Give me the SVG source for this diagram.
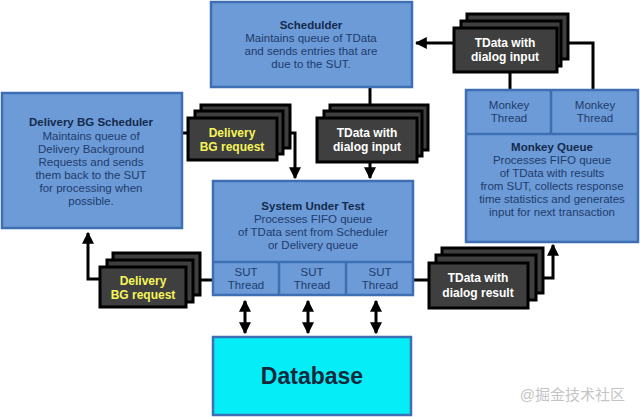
<svg xmlns="http://www.w3.org/2000/svg" width="640" height="417" viewBox="0 0 640 417">
<defs>
<style>
.box{fill:#6c9bd8;stroke:#3f6fb3;stroke-width:2.5}
.db{fill:#05eef8;stroke:#3f6fb3;stroke-width:2.5}
.card{fill:#3f3f3f;stroke:#000;stroke-width:3}
.t{font-family:"Liberation Sans",Arial,sans-serif;font-size:11.5px;fill:#1f3c6c;text-anchor:middle}
.b{font-weight:bold;fill:#142a4c}
.ct{font-family:"Liberation Sans",Arial,sans-serif;font-size:12px;font-weight:bold;fill:#ffffff;text-anchor:middle}
.cy{fill:#f5f55a}
.ln{fill:none;stroke:#000;stroke-width:3}
</style>
<marker id="ah" viewBox="0 0 10 10" refX="9" refY="5" markerWidth="4" markerHeight="4" orient="auto-start-reverse" markerUnits="strokeWidth">
<path d="M0,0 L10,5 L0,10 Z" fill="#000"/>
</marker>
</defs>
<rect width="640" height="417" fill="#ffffff"/>

<g id="connectors">
<path class="ln" d="M454,43 H416" marker-end="url(#ah)"/>
<path class="ln" d="M510,72 V90"/>
<path class="ln" d="M568,43 H593 V90"/>
<path class="ln" d="M370,88 V105"/>
<path class="ln" d="M370,162 V178" marker-end="url(#ah)"/>
<path class="ln" d="M182,133 H188"/>
<path class="ln" d="M290,133 H295 V178" marker-end="url(#ah)"/>
<path class="ln" d="M213,280 H200"/>
<path class="ln" d="M100,279 H88 V233" marker-end="url(#ah)"/>
<path class="ln" d="M413,280 H429"/>
<path class="ln" d="M543,278 H553 V245" marker-end="url(#ah)"/>
<path class="ln" d="M245,301 V333" marker-start="url(#ah)" marker-end="url(#ah)"/>
<path class="ln" d="M308,301 V333" marker-start="url(#ah)" marker-end="url(#ah)"/>
<path class="ln" d="M376,301 V333" marker-start="url(#ah)" marker-end="url(#ah)"/>
</g>

<g id="scheduler">
<rect class="box" x="211" y="2" width="201" height="85"/>
<text class="t b" x="311" y="29">Schedulder</text>
<text class="t" x="311" y="42">Maintains queue of TData</text>
<text class="t" x="311" y="55">and sends entries that are</text>
<text class="t" x="311" y="68">due to the SUT.</text>
</g>

<g id="tdata-input-top">
<rect class="card" x="467" y="14" width="101" height="45"/>
<rect class="card" x="461" y="21" width="100" height="45"/>
<rect class="card" x="454" y="28" width="103" height="44"/>
<text class="ct" x="505" y="47">TData with</text>
<text class="ct" x="505" y="61">dialog input</text>
</g>

<g id="delivery-scheduler">
<rect class="box" x="2" y="93" width="180" height="135"/>
<text class="t b" x="91" y="126">Delivery BG Scheduler</text>
<text class="t" x="91" y="140">Maintains queue of</text>
<text class="t" x="91" y="153">Delivery Background</text>
<text class="t" x="91" y="166">Requests and sends</text>
<text class="t" x="91" y="179">them back to the SUT</text>
<text class="t" x="91" y="192">for processing when</text>
<text class="t" x="91" y="205">possible.</text>
</g>

<g id="delivery-request-top">
<rect class="card" x="201" y="105" width="89" height="43"/>
<rect class="card" x="195" y="111" width="88" height="43"/>
<rect class="card" x="188" y="118" width="89" height="42"/>
<text class="ct cy" x="232" y="137">Delivery</text>
<text class="ct cy" x="232" y="151">BG request</text>
</g>

<g id="tdata-input-mid">
<rect class="card" x="330" y="105" width="98" height="45"/>
<rect class="card" x="324" y="111" width="98" height="45"/>
<rect class="card" x="317" y="118" width="100" height="44"/>
<text class="ct" x="367" y="137">TData with</text>
<text class="ct" x="367" y="151">dialog input</text>
</g>

<g id="monkey-queue">
<rect class="box" x="466" y="90" width="172" height="152"/>
<line x1="466" y1="134" x2="638" y2="134" stroke="#3f6fb3" stroke-width="2.5"/>
<line x1="551" y1="90" x2="551" y2="134" stroke="#3f6fb3" stroke-width="2.5"/>
<text class="t" x="509" y="109">Monkey</text>
<text class="t" x="509" y="122">Thread</text>
<text class="t" x="595" y="109">Monkey</text>
<text class="t" x="595" y="122">Thread</text>
<text class="t b" x="552" y="151">Monkey Queue</text>
<text class="t" x="552" y="164">Processes FIFO queue</text>
<text class="t" x="552" y="177">of TData with results</text>
<text class="t" x="552" y="190">from SUT, collects response</text>
<text class="t" x="552" y="203">time statistics and generates</text>
<text class="t" x="552" y="216">input for next transaction</text>
</g>

<g id="sut">
<rect class="box" x="213" y="181" width="200" height="114"/>
<line x1="213" y1="262" x2="413" y2="262" stroke="#3f6fb3" stroke-width="2.5"/>
<line x1="279" y1="262" x2="279" y2="295" stroke="#3f6fb3" stroke-width="2.5"/>
<line x1="346" y1="262" x2="346" y2="295" stroke="#3f6fb3" stroke-width="2.5"/>
<text class="t b" x="313" y="210">System Under Test</text>
<text class="t" x="313" y="223">Processes FIFO queue</text>
<text class="t" x="313" y="236">of TData sent from Scheduler</text>
<text class="t" x="313" y="249">or Delivery queue</text>
<text class="t" x="246" y="276">SUT</text>
<text class="t" x="246" y="289">Thread</text>
<text class="t" x="312" y="276">SUT</text>
<text class="t" x="312" y="289">Thread</text>
<text class="t" x="380" y="276">SUT</text>
<text class="t" x="380" y="289">Thread</text>
</g>

<g id="delivery-request-bottom">
<rect class="card" x="113" y="253" width="87" height="42"/>
<rect class="card" x="107" y="260" width="86" height="42"/>
<rect class="card" x="100" y="267" width="86" height="40"/>
<text class="ct cy" x="143" y="285">Delivery</text>
<text class="ct cy" x="143" y="299">BG request</text>
</g>

<g id="tdata-result">
<rect class="card" x="442" y="248" width="101" height="45"/>
<rect class="card" x="436" y="255" width="100" height="45"/>
<rect class="card" x="429" y="263" width="99" height="45"/>
<text class="ct" x="478" y="282">TData with</text>
<text class="ct" x="478" y="297">dialog result</text>
</g>

<g id="database">
<rect class="db" x="213" y="337" width="198" height="78"/>
<text x="312" y="384" font-family="Liberation Sans, Arial, sans-serif" font-size="23" font-weight="bold" fill="#14283c" text-anchor="middle">Database</text>
</g>

<text x="625" y="400" font-family="Liberation Sans, 'Noto Sans CJK SC', sans-serif" font-size="15" fill="#c4c4c4" text-anchor="end">@掘金技术社区</text>
</svg>
